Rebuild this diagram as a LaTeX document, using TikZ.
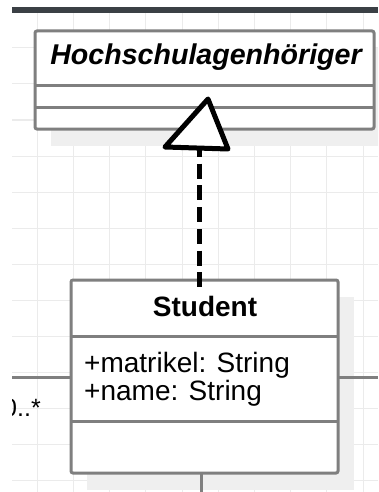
\documentclass[tikz,border=0pt]{standalone}
\usepackage{fontspec}
\setmainfont{Liberation Sans}
\definecolor{barcol}{HTML}{3B4045}
\definecolor{gridcol}{HTML}{EBEBEB}
\definecolor{shadowcol}{HTML}{EFEFEF}
\definecolor{linecol}{HTML}{7F7F7F}
\tikzset{
  classbox/.style={draw=linecol, line width=3pt, fill=white, rounded corners=2pt,
    inner sep=0pt, outer sep=0pt, anchor=north west},
  divider/.style={draw=linecol, line width=3pt},
  conn/.style={draw=linecol, line width=3pt},
  gridline/.style={draw=gridcol, line width=1pt},
  shadowbox/.style={fill=shadowcol},
  dep/.style={draw=black, line width=5pt, dash pattern=on 15pt off 6.7pt, dash phase=6pt},
  gentri/.style={draw=black, line width=5pt, fill=white, line join=round},
  bigtxt/.style={font=\fontsize{28}{30}\selectfont, inner sep=0pt},
  smalltxt/.style={font=\fontsize{25}{27}\selectfont, inner sep=0pt}
}
\begin{document}
\begin{tikzpicture}[x=1pt,y=-1pt]
\useasboundingbox (0,0) rectangle (378,492);
\fill[white] (0,0) rectangle (378,492);
\begin{scope}
\clip (12,0) rectangle (378,492);
% grid
\foreach \k in {1,...,10} {\draw[gridline] ({1+36.2*\k},13) -- ({1+36.2*\k},492);}
\foreach \k in {1,...,13} {\draw[gridline] (12,{12+36*\k}) -- (378,{12+36*\k});}
% top bar
\fill[barcol] (12,7) rectangle (378,13);
% shadows
\fill[shadowbox] (51,48) rectangle (391,146);
\fill[shadowbox] (87,297) rectangle (354,490);
% Hochschulagenhoeriger
\node[classbox, minimum width=339pt, minimum height=98pt] (hs) at (35,31) {};
\coordinate (hsd1) at (35,86);
\coordinate (hsd2) at (35,108);
\draw[divider] (hsd1) -- (hsd1 -| hs.east);
\draw[divider] (hsd2) -- (hsd2 -| hs.east);
\node[bigtxt, font=\fontsize{28.6}{30}\selectfont\bfseries\itshape, anchor=base] (hsname) at (206,65) {Hochschulagenhöriger};
% Student
\node[classbox, minimum width=267pt, minimum height=193pt] (st) at (71,280) {};
\coordinate (std1) at (71,336);
\coordinate (std2) at (71,421);
\draw[divider] (std1) -- (std1 -| st.east);
\draw[divider] (std2) -- (std2 -| st.east);
\node[bigtxt, font=\fontsize{28}{30}\selectfont\bfseries, anchor=base] (stname) at (205,316) {Student};
\node[bigtxt, anchor=base west] (attr1) at (84,372) {+matrikel: String};
\node[bigtxt, anchor=base west] (attr2) at (84,400) {+name: String};
% connectors to the sides and below
\coordinate (lend) at (12,377);
\coordinate (rend) at (378,377);
\coordinate (bend) at (201,492);
\draw[conn] (lend) -- (lend -| st.west);
\draw[conn] (rend -| st.east) -- (rend);
\draw[conn] (bend |- st.south) -- (bend);
\node[smalltxt, anchor=base west] (mult) at (3,416) {0..*};
% realization
\coordinate (tb) at (199,148);
\draw[dep] (tb) -- ([yshift=-9pt]st.north -| tb);
\coordinate (apex) at (208,99);
\coordinate (bl) at (165,147);
\coordinate (br) at (228,149);
\draw[gentri] (apex) -- (bl) -- (br) -- cycle;
\end{scope}
\end{tikzpicture}
\end{document}
